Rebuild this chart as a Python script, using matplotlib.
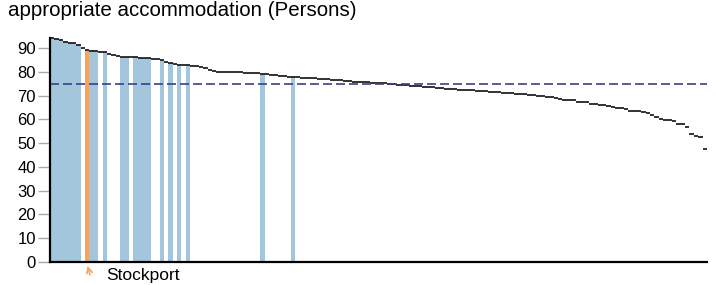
import matplotlib
matplotlib.use("Agg")
import matplotlib.pyplot as plt
import numpy as np

plt.rcParams['font.family'] = ['Liberation Sans', 'DejaVu Sans']

# one value per local authority, sorted high to low (150 areas)
values = [
    94.3, 93.8, 93.2, 92.5, 92.3, 92.0, 91.2, 89.8, 89.2, 88.9,
    88.7, 88.4, 88.2, 87.6, 87.0, 86.6, 86.2, 86.1, 86.0, 86.0,
    85.9, 85.8, 85.6, 85.4, 85.2, 84.8, 84.0, 83.6, 83.2, 83.0,
    82.9, 82.8, 82.6, 82.5, 82.2, 81.6, 80.6, 80.2, 80.1, 80.0,
    80.0, 79.9, 79.8, 79.7, 79.6, 79.5, 79.4, 79.3, 79.1, 79.0,
    78.8, 78.6, 78.4, 78.2, 78.0, 77.8, 77.6, 77.5, 77.4, 77.3,
    77.2, 77.1, 77.0, 76.9, 76.7, 76.5, 76.4, 76.2, 76.0, 75.9,
    75.8, 75.7, 75.5, 75.4, 75.3, 75.2, 75.1, 75.0, 74.8, 74.6,
    74.5, 74.3, 74.2, 74.0, 73.9, 73.7, 73.6, 73.4, 73.2, 73.0,
    72.9, 72.8, 72.6, 72.5, 72.4, 72.3, 72.2, 72.0, 71.9, 71.8,
    71.6, 71.5, 71.4, 71.2, 71.1, 71.0, 70.8, 70.7, 70.5, 70.4,
    70.2, 70.0, 69.8, 69.5, 69.2, 68.9, 68.4, 68.2, 68.1, 68.0,
    67.4, 67.3, 67.1, 66.5, 66.3, 66.2, 66.0, 65.4, 65.0, 64.9,
    64.7, 64.3, 63.7, 63.5, 63.4, 63.2, 62.8, 61.7, 60.8, 60.3,
    59.9, 59.7, 59.3, 58.2, 57.9, 56.6, 54.0, 53.1, 52.5, 47.6,
]
# comparator areas (blue) and the selected area (orange)
comparators = [0, 1, 2, 3, 4, 5, 6, 9, 10, 12, 16, 17, 19, 20, 21, 22,
               25, 27, 29, 31, 48, 55]
selected = 8
selected_name = "Stockport"
average = 75.0
title = "appropriate accommodation (Persons)"

fig = plt.figure(figsize=(7.16, 2.85), dpi=100)
ax = fig.add_axes([50 / 716, 1 - 262 / 285, 657 / 716, 224 / 285])

x = np.arange(len(values))
vals = np.array(values)

ax.bar(x[comparators], vals[comparators], width=1, align='edge',
       color='#a3c6dc', linewidth=0)
ax.bar([selected], [values[selected]], width=1, align='edge',
       color='#f7a45c', linewidth=0)

ax.hlines(vals, x, x + 1, color='#111111', linewidth=1.2, clip_on=False)
ax.axhline(average, color='#3b4088', linewidth=1.2,
           linestyle=(0, (5.4, 2.4)))

ax.set_xlim(0, len(values))
ax.set_ylim(0, 94.2)
ax.set_yticks(np.arange(0, 91, 10))
ax.set_xticks([])
ax.tick_params(axis='y', length=9, width=1, color='#aaaaaa',
               labelsize=12, pad=1)
for s in ['top', 'right']:
    ax.spines[s].set_visible(False)
ax.spines['left'].set_linewidth(1.6)
ax.spines['bottom'].set_linewidth(1.6)

ax.text(selected + 4.8, -5.6, selected_name, fontsize=12.5,
        va='center', ha='left', clip_on=False)
ax.annotate("", xy=(selected + 0.4, -0.5), xytext=(selected + 1.3, -6.5),
            arrowprops=dict(arrowstyle='->', color='#f7a45c', lw=1.2),
            annotation_clip=False)

fig.text(8 / 716, 1 - 0.5 / 285, title, fontsize=14.8, ha='left', va='top')

fig.savefig("out.png", dpi=100)
